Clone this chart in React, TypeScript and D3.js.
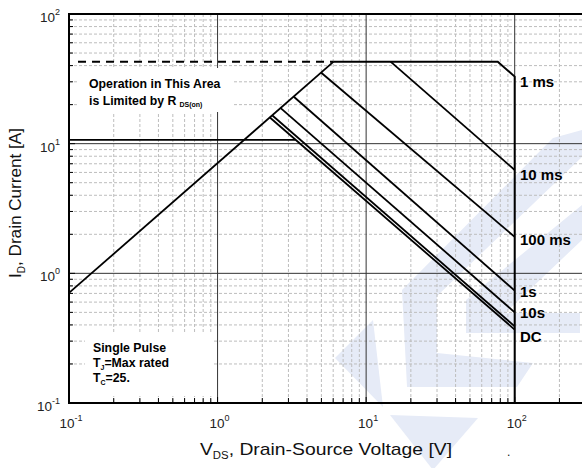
import React from "react";
import * as d3 from "d3";

// ---- data ----
const rdsLimit: [number, number][] = [[0.1, 0.706], [6.04, 42.9]];
const currentLimitDashed: [number, number][] = [[0.115, 42.9], [6.04, 42.9]];
const pulse1ms: [number, number][] = [[6.04, 42.9], [76.9, 42.9], [100, 32.9], [100, 0.1]];
const pulse10ms: [number, number][] = [[14.6, 42.9], [100, 6.27]];
const pulse100ms: [number, number][] = [[4.99, 35.2], [100, 1.91]];
const pulse1s: [number, number][] = [[3.26, 23.0], [100, 0.735]];
const pulse10s: [number, number][] = [[2.66, 18.8], [100, 0.5]];
const dcA: [number, number][] = [[2.34, 16.5], [100, 0.39]];
const dcB: [number, number][] = [[2.25, 15.9], [100, 0.368]];
const hLimit: [number, number][] = [[0.1, 10.7], [3.35, 10.7]];

const curveLabels = ["1 ms", "10 ms", "100 ms", "1s", "10s", "DC"];
const labelCurrents = [30.4, 5.74, 1.81, 0.727, 0.498, 0.327];

const decadeTicks = [0.1, 1, 10, 100];
const decadeExp = ["-1", "0", "1", "2"];

// watermark polygons (pixel space)
const watermark: [number, number][][] = [
  [[553, 138], [582, 130], [582, 157], [437, 296], [437, 353], [533, 363], [517, 387], [407, 387], [402, 290]],
  [[582, 205], [582, 240], [505, 313], [580, 313], [580, 333], [466, 333], [466, 300]],
  [[335, 358], [373, 320], [383, 407]],
  [[390, 415], [478, 418], [433, 470]],
];

const W = 582, H = 468;
const L = 69, R = 582, T = 14, B = 403;

export default function App() {
  const x = d3.scaleLog().domain([0.1, 100]).range([L, 514.7]);
  const y = d3.scaleLog().domain([0.1, 100]).range([B, T]);
  const line = d3.line<[number, number]>().x(d => x(d[0])).y(d => y(d[1]));
  const xAll = d3.scaleLog().domain([0.1, 1000]).ticks().filter(v => x(v) <= R + 0.5);
  const yAll = y.ticks();
  const isMajor = (v: number) => Math.abs(Math.log10(v) - Math.round(Math.log10(v))) < 1e-6;
  const font = "'Liberation Sans', Arial, sans-serif";
  const curves = [pulse10ms, pulse100ms, pulse1s, pulse10s, dcA, dcB, hLimit, rdsLimit];

  return (
    <svg width={W} height={H} style={{ position: "absolute", left: 0, top: 0, background: "#fff" }} fontFamily={font}>
      <defs>
        <clipPath id="plot"><rect x={L} y={T} width={R - L} height={B - T} /></clipPath>
      </defs>
      <rect width={W} height={H} fill="#fff" />
      {watermark.map((p, i) => (
        <polygon key={i} points={p.map(q => q.join(",")).join(" ")} fill="#e6ebf7" />
      ))}
      <g clipPath="url(#plot)">
        {xAll.filter(v => !isMajor(v)).map(v => (
          <line key={"xm" + v} x1={x(v)} x2={x(v)} y1={T} y2={B} stroke="#bdbdbd" strokeDasharray="3 2" strokeWidth={1} />
        ))}
        {yAll.filter(v => !isMajor(v)).map(v => (
          <line key={"ym" + v} x1={L} x2={R} y1={y(v)} y2={y(v)} stroke="#bdbdbd" strokeDasharray="3 2" strokeWidth={1} />
        ))}
        {xAll.filter(isMajor).map(v => (
          <line key={"xM" + v} x1={x(v)} x2={x(v)} y1={T} y2={B} stroke="#333" strokeWidth={1} />
        ))}
        {yAll.filter(isMajor).map(v => (
          <line key={"yM" + v} x1={L} x2={R} y1={y(v)} y2={y(v)} stroke="#333" strokeWidth={1} />
        ))}
      </g>
      {/* text boxes */}
      <rect x={77} y={68} width={157} height={44} fill="#fff" />
      <rect x={85} y={334} width={129} height={62} fill="#fff" />
      <g clipPath="url(#plot)" fill="none" stroke="#000" strokeWidth={1.8}>
        <path d={line(currentLimitDashed) || ""} strokeDasharray="8 6" strokeWidth={2} />
        <path d={line(pulse1ms) || ""} strokeWidth={2} />
        {curves.map((c, i) => <path key={i} d={line(c) || ""} />)}
      </g>
      {/* axes */}
      <line x1={L} x2={R} y1={T} y2={T} stroke="#000" strokeWidth={2} />
      <line x1={L} x2={L} y1={T - 1} y2={B + 1} stroke="#000" strokeWidth={2} />
      <line x1={L} x2={R} y1={B} y2={B} stroke="#000" strokeWidth={2} />
      {yAll.map(v => (
        <line key={"yt" + v} x1={L} x2={L + (isMajor(v) ? 6 : 4)} y1={y(v)} y2={y(v)} stroke="#000" strokeWidth={1} />
      ))}
      {xAll.map(v => (
        <line key={"xt" + v} x1={x(v)} x2={x(v)} y1={B} y2={B - (isMajor(v) ? 6 : 5)} stroke="#000" strokeWidth={1} />
      ))}
      {decadeTicks.map((v, i) => (
        <text key={"yl" + v} x={60} y={y(v) + 8} textAnchor="end" fontSize={13.5} fill="#222">
          <tspan>10</tspan>
          <tspan dy={-7} fontSize={9}>{decadeExp[i]}</tspan>
        </text>
      ))}
      {decadeTicks.map((v, i) => (
        <text key={"xl" + v} x={x(v) + 2} y={428} textAnchor="middle" fontSize={13.5} fill="#222">
          <tspan>10</tspan>
          <tspan dy={-7} fontSize={9}>{decadeExp[i]}</tspan>
        </text>
      ))}
      {/* curve labels */}
      {curveLabels.map((s, i) => (
        <text key={s} x={520} y={y(labelCurrents[i])} dominantBaseline="central" fontSize={15} fontWeight="bold" fill="#000">{s}</text>
      ))}
      {/* annotations */}
      <text x={89} y={88} fontSize={12.3} fontWeight="bold">Operation in This Area</text>
      <text x={89} y={105} fontSize={12.3} fontWeight="bold">
        is Limited by R<tspan dx={3} dy={2} fontSize={7}>DS(on)</tspan>
      </text>
      <text x={93} y={352} fontSize={12.3} fontWeight="bold">Single Pulse</text>
      <text x={93} y={367} fontSize={12.3} fontWeight="bold">
        T<tspan dy={3} fontSize={7}>J</tspan><tspan dy={-3}>=Max rated</tspan>
      </text>
      <text x={93} y={382} fontSize={12.3} fontWeight="bold">
        T<tspan dy={3} fontSize={7}>C</tspan><tspan dy={-3}>=25.</tspan>
      </text>
      {/* axis titles */}
      <text transform="translate(21,278) rotate(-90)" fontSize={17} fill="#111" textLength={150} lengthAdjust="spacingAndGlyphs">
        I<tspan dy={4} fontSize={10}>D</tspan><tspan dy={-4}>, Drain Current [A]</tspan>
      </text>
      <text x={200} y={455} fontSize={17} fill="#111" textLength={252} lengthAdjust="spacingAndGlyphs">
        V<tspan dy={4} fontSize={10}>DS</tspan><tspan dy={-4}>, Drain-Source Voltage [V]</tspan>
      </text>
      <text x={507} y={456} fontSize={12} fill="#111">.</text>
    </svg>
  );
}
